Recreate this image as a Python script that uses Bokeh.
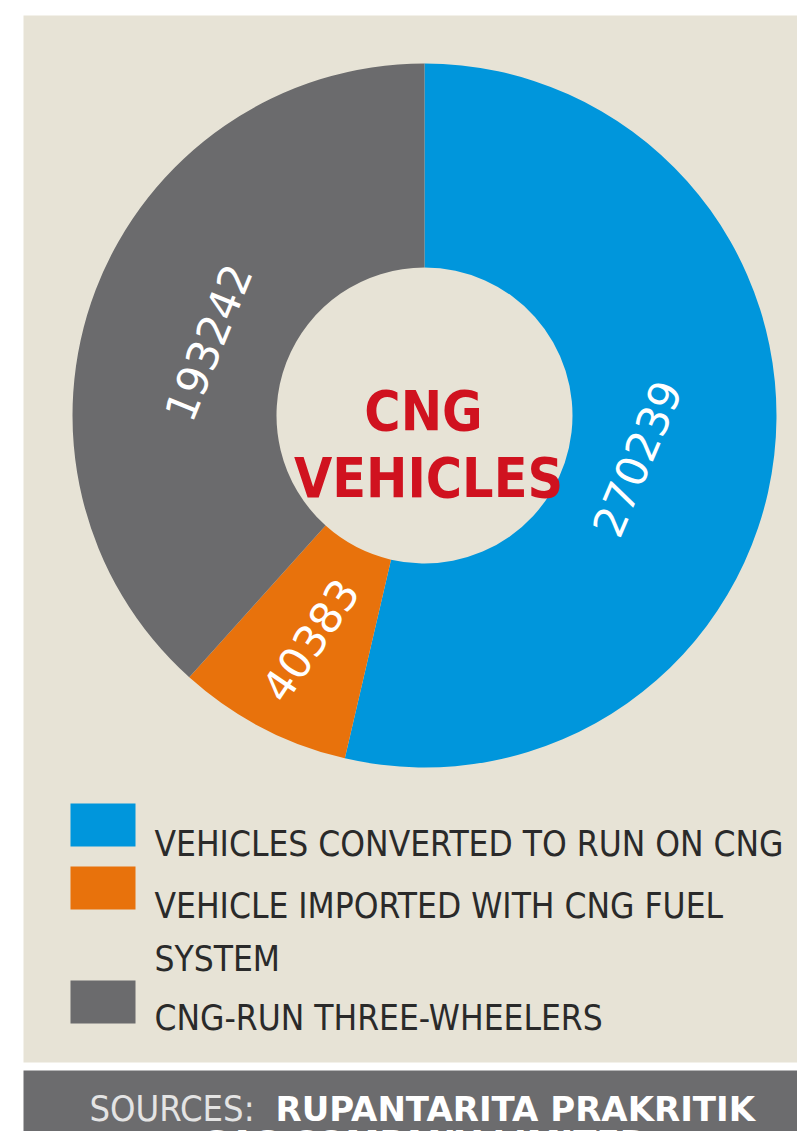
import numpy as np
from bokeh.plotting import figure
from bokeh.models import Range1d
from bokeh.core.properties import value
from bokeh.embed import file_html
from bokeh.resources import INLINE

# ---- data ----
categories = ["VEHICLES CONVERTED TO RUN ON CNG",
              "VEHICLE IMPORTED WITH CNG FUEL\nSYSTEM",
              "CNG-RUN THREE-WHEELERS"]
counts = [270239, 40383, 193242]
colors = ["#0096dc", "#e8720c", "#6b6b6d"]
title_lines = ["CNG", "VEHICLES"]
source_label = "SOURCES:"
source_lines = ["RUPANTARITA PRAKRITIK", "GAS COMPANY LIMITED"]

W, H = 797, 1131
NARROW = "DejaVu Sans Condensed"

def Y(y_img):
    return H - y_img

p = figure(width=W, height=H, x_range=Range1d(0, W), y_range=Range1d(0, H),
           x_axis_location=None, y_axis_location=None, toolbar_location=None,
           output_backend="svg", min_border=0)
p.grid.visible = False
p.outline_line_color = None
p.background_fill_color = "#ffffff"
p.border_fill_color = "#ffffff"

# panel and footer
p.quad(left=[23], right=[W], top=[Y(15)], bottom=[Y(1062)], fill_color="#e7e3d6", line_color=None)
p.quad(left=[23], right=[W], top=[Y(1070)], bottom=[0], fill_color="#6c6c6e", line_color=None)

# donut
cx, cy = 424, Y(415)
vals = np.array(counts, dtype=float)
frac = vals / vals.sum()
cum = np.concatenate([[0], np.cumsum(frac)])
ends = np.pi / 2 - 2 * np.pi * cum[:-1]
starts = np.pi / 2 - 2 * np.pi * cum[1:]
p.annular_wedge(x=cx, y=cy, inner_radius=148, outer_radius=352,
                start_angle=starts, end_angle=ends, direction="anticlock",
                fill_color=colors, line_color=None)

# value labels
mids = (starts + ends) / 2
lab_off_deg = np.array([-4.9, 0.6, 2.3])
lab_r = np.array([217, 252, 228])
lab_rot_deg = np.array([67, 56, 68])
la = mids + np.radians(lab_off_deg)
p.text(x=cx + lab_r * np.cos(la), y=cy + lab_r * np.sin(la),
       text=[str(v) for v in counts], angle=np.radians(lab_rot_deg),
       text_align="center", text_baseline="middle", text_color="#ffffff",
       text_font=value("DejaVu Sans"), text_font_size="43px")

# center title
p.text(x=[423, 428], y=[Y(410), Y(477)], text=title_lines,
       text_align="center", text_baseline="alphabetic", text_color="#d0121f",
       text_font=value(NARROW), text_font_style="bold", text_font_size="55px")

# legend
sq_top = [803, 866, 980]
text_base = [[843], [905, 958], [1017]]
for i, cat in enumerate(categories):
    p.quad(left=[70], right=[135], top=[Y(sq_top[i])], bottom=[Y(sq_top[i] + 43)],
           fill_color=colors[i], line_color=None)
    for line, yb in zip(cat.split("\n"), text_base[i]):
        p.text(x=[154], y=[Y(yb)], text=[line], text_align="left",
               text_baseline="alphabetic", text_color="#2a2a2a",
               text_font=value(NARROW), text_font_size="35px")

# footer
p.text(x=[89], y=[Y(1108)], text=[source_label], text_align="left",
       text_baseline="alphabetic", text_color="#e4e4e4",
       text_font=value(NARROW), text_font_size="36px")
p.text(x=[275], y=[Y(1108)], text=[source_lines[0]], text_align="left",
       text_baseline="alphabetic", text_color="#ffffff",
       text_font=value("DejaVu Sans"), text_font_style="bold", text_font_size="34px")
p.text(x=[424], y=[Y(1142)], text=[source_lines[1]], text_align="center",
       text_baseline="alphabetic", text_color="#ffffff",
       text_font=value("DejaVu Sans"), text_font_style="bold", text_font_size="34px")

open("out.html", "w").write(file_html(p, INLINE))
